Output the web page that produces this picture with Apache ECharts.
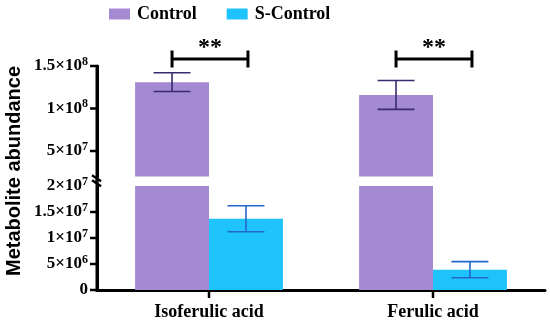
<!DOCTYPE html>
<html><head><meta charset="utf-8">
<script src="https://cdn.jsdelivr.net/npm/echarts@6/dist/echarts.min.js"></script>
<style>html,body{margin:0;padding:0;background:#fff}#c{width:550px;height:324px}</style>
</head><body><div id="c"></div>
<script>
// ---- data ----
const categories = ['Isoferulic acid', 'Ferulic acid'];
const seriesNames = ['Control', 'S-Control'];
const controlMean = [1.31e8, 1.16e8];
const controlSD = [1.1e7, 1.7e7];
const sControlMean = [1.37e7, 3.9e6];
const sControlSD = [2.5e6, 1.55e6];
const significance = ['**', '**'];
const upperTicks = [5e7, 1e8, 1.5e8];
const upperTickLabels = ['5×10{s|7}', '1×10{s|8}', '1.5×10{s|8}'];
const lowerTicks = [0, 5e6, 1e7, 1.5e7, 2e7];
const lowerTickLabels = ['0', '5×10{s|6}', '1×10{s|7}', '1.5×10{s|7}', '2×10{s|7}'];
const breakValue = 2e7;
const upperMax = 1.5e8;

// ---- style / layout ----
const SERIF = '"Times New Roman","Liberation Serif",serif';
const SANS = 'Arial,"Liberation Sans",sans-serif';
const C_PURPLE = '#A48AD3';
const C_BLUE = '#1EC3FB';
const E_PURPLE = '#3B2B6E';
const E_BLUE = '#2566CC';
const GRID_LEFT = 97, GRID_RIGHT = 5;
const UP = { top: 66, height: 110.5 };
const LO = { top: 186, height: 104 };
const CAT_GAP = 0.34;

const chart = echarts.init(document.getElementById('c'));

function labelFmt(ticks, labels) {
  return function (v) {
    const i = ticks.findIndex(t => Math.abs(t - v) < 1);
    return i >= 0 ? labels[i] : '';
  };
}
const richLabel = {
  fontFamily: SERIF, fontWeight: 'bold', fontSize: 17, color: '#000',
  rich: { s: { fontFamily: SERIF, fontWeight: 'bold', fontSize: 12, color: '#000', padding: [0, 0, 9, 0] } }
};

function errRender(side, color) {
  return function (params, api) {
    const i = api.value(0);
    const m = api.value(1), sd = api.value(2);
    const band = api.size([1, 0])[0];
    const bw = band * (1 - CAT_GAP) / 2;
    const cx = api.coord([i, m])[0] + side * bw / 2;
    const top = api.coord([i, m + sd])[1];
    const bot = api.coord([i, m - sd])[1];
    const half = bw / 4;
    const st = { stroke: color, lineWidth: 1.6 };
    return { type: 'group', children: [
      { type: 'line', shape: { x1: cx, y1: top, x2: cx, y2: bot }, style: st },
      { type: 'line', shape: { x1: cx - half, y1: top, x2: cx + half, y2: top }, style: st },
      { type: 'line', shape: { x1: cx - half, y1: bot, x2: cx + half, y2: bot }, style: st }
    ] };
  };
}

function bracketRender(params, api) {
  const i = api.value(0);
  const band = api.size([1, 0])[0];
  const bw = band * (1 - CAT_GAP) / 2;
  const c = api.coord([i, upperMax])[0];
  const x1 = c - bw / 2, x2 = c + bw / 2 + 2;
  const y = params.coordSys.y - 7;
  const st = { stroke: '#000', lineWidth: 3 };
  return { type: 'group', children: [
    { type: 'line', shape: { x1: x1, y1: y, x2: x2, y2: y }, style: st },
    { type: 'line', shape: { x1: x1, y1: y - 8.5, x2: x1, y2: y + 8.5 }, style: st },
    { type: 'line', shape: { x1: x2, y1: y - 8.5, x2: x2, y2: y + 8.5 }, style: st },
    { type: 'text', x: (x1 + x2) / 2, y: y - 11, style: { text: significance[i], fontFamily: SERIF, fontWeight: 'bold', fontSize: 24, fill: '#000', align: 'center', verticalAlign: 'middle' } }
  ] };
}

// y-axis line segment + outward ticks, drawn per grid through the axis scale
function axisRender(isLower) {
  return function (params, api) {
    const cs = params.coordSys;
    const x = cs.x;
    const v = api.value(1);
    const y = api.coord([0, v])[1];
    const children = [
      { type: 'rect', shape: { x: x - 7, y: y - 1.25, width: 7, height: 2.5 }, style: { fill: '#000' } }
    ];
    if (params.dataIndex === 0) {
      const y1 = isLower ? cs.y - 6 : cs.y - 1;
      const y2 = isLower ? cs.y + cs.height + 1.5 : cs.y + cs.height + 6;
      children.push({ type: 'rect', shape: { x: x - 1.5, y: y1, width: 3, height: y2 - y1 }, style: { fill: '#000' } });
      if (isLower) {
        categories.forEach((c, i) => {
          const cx = api.coord([i, 0])[0];
          children.push({ type: 'rect', shape: { x: cx - 1.25, y: cs.y + cs.height, width: 2.5, height: 8 }, style: { fill: '#000' } });
        });
      }
    }
    return { type: 'group', children: children };
  };
}

const errCtrl = categories.map((c, i) => [i, controlMean[i], controlSD[i]]);
const errS = categories.map((c, i) => [i, sControlMean[i], sControlSD[i]]);

const option = {
  animation: false,
  legend: {
    top: 0, left: 104, itemWidth: 21, itemHeight: 11, itemGap: 30,
    icon: 'rect',
    data: seriesNames,
    textStyle: { fontFamily: SERIF, fontWeight: 'bold', fontSize: 18, color: '#000', padding: [0, 0, 0, 2] }
  },
  grid: [
    { left: GRID_LEFT, right: GRID_RIGHT, top: UP.top, height: UP.height },
    { left: GRID_LEFT, right: GRID_RIGHT, top: LO.top, height: LO.height }
  ],
  xAxis: [
    { type: 'category', gridIndex: 0, data: categories, show: false },
    { type: 'category', gridIndex: 1, data: categories,
      axisLine: { show: true, lineStyle: { color: '#000', width: 3 } },
      axisTick: { show: false },
      axisLabel: { fontFamily: SERIF, fontWeight: 'bold', fontSize: 18, color: '#000', margin: 13 } }
  ],
  yAxis: [
    { type: 'value', gridIndex: 0, min: breakValue, max: upperMax,
      splitLine: { show: false }, axisLine: { show: true, onZero: false, lineStyle: { color: '#000', width: 3 } }, axisTick: { show: false },
      axisLabel: Object.assign({ customValues: upperTicks, margin: 9, formatter: labelFmt(upperTicks, upperTickLabels) }, richLabel) },
    { type: 'value', gridIndex: 1, min: 0, max: breakValue, interval: 5e6,
      splitLine: { show: false }, axisLine: { show: true, onZero: false, lineStyle: { color: '#000', width: 3 } }, axisTick: { show: false },
      axisLabel: Object.assign({ margin: 9, formatter: labelFmt(lowerTicks, lowerTickLabels) }, richLabel) }
  ],
  series: [
    { name: seriesNames[0], type: 'bar', xAxisIndex: 0, yAxisIndex: 0, data: controlMean, itemStyle: { color: C_PURPLE }, barGap: 0, barCategoryGap: '34%' },
    { name: seriesNames[1], type: 'bar', xAxisIndex: 0, yAxisIndex: 0, data: sControlMean, itemStyle: { color: C_BLUE }, barGap: 0, barCategoryGap: '34%' },
    { name: seriesNames[0], type: 'bar', xAxisIndex: 1, yAxisIndex: 1, data: controlMean, itemStyle: { color: C_PURPLE }, barGap: 0, barCategoryGap: '34%' },
    { name: seriesNames[1], type: 'bar', xAxisIndex: 1, yAxisIndex: 1, data: sControlMean, itemStyle: { color: C_BLUE }, barGap: 0, barCategoryGap: '34%' },
    { type: 'custom', xAxisIndex: 0, yAxisIndex: 0, data: errCtrl, renderItem: errRender(-1, E_PURPLE), z: 5, encode: { x: 0, y: 1 } },
    { type: 'custom', xAxisIndex: 1, yAxisIndex: 1, data: errS, renderItem: errRender(1, E_BLUE), z: 5, encode: { x: 0, y: 1 } },
    { type: 'custom', xAxisIndex: 0, yAxisIndex: 0, data: categories.map((c, i) => [i, upperMax]), renderItem: bracketRender, clip: false, z: 6, encode: { x: 0, y: 1 } },
    { type: 'custom', xAxisIndex: 0, yAxisIndex: 0, data: upperTicks.map(v => [0, v]), renderItem: axisRender(false), clip: false, z: 20, silent: true, encode: { x: 0, y: 1 } },
    { type: 'custom', xAxisIndex: 1, yAxisIndex: 1, data: lowerTicks.slice(0, -1).map(v => [0, v]), renderItem: axisRender(true), clip: false, z: 20, silent: true, encode: { x: 0, y: 1 } }
  ],
  graphic: [
    { type: 'line', shape: { x1: GRID_LEFT - 5, y1: (UP.top + UP.height + LO.top) / 2 - 6, x2: GRID_LEFT + 4, y2: (UP.top + UP.height + LO.top) / 2 }, style: { stroke: '#000', lineWidth: 2.5 }, z: 100 },
    { type: 'line', shape: { x1: GRID_LEFT - 5, y1: (UP.top + UP.height + LO.top) / 2 - 1, x2: GRID_LEFT + 4, y2: (UP.top + UP.height + LO.top) / 2 + 5 }, style: { stroke: '#000', lineWidth: 2.5 }, z: 100 },
    { type: 'text', x: 14, y: 171, rotation: Math.PI / 2,
      style: { text: 'Metabolite abundance', fontFamily: SANS, fontWeight: 'bold', fontSize: 20, fill: '#000', align: 'center', verticalAlign: 'middle' } }
  ]
};
chart.setOption(option);
</script>
</body></html>
